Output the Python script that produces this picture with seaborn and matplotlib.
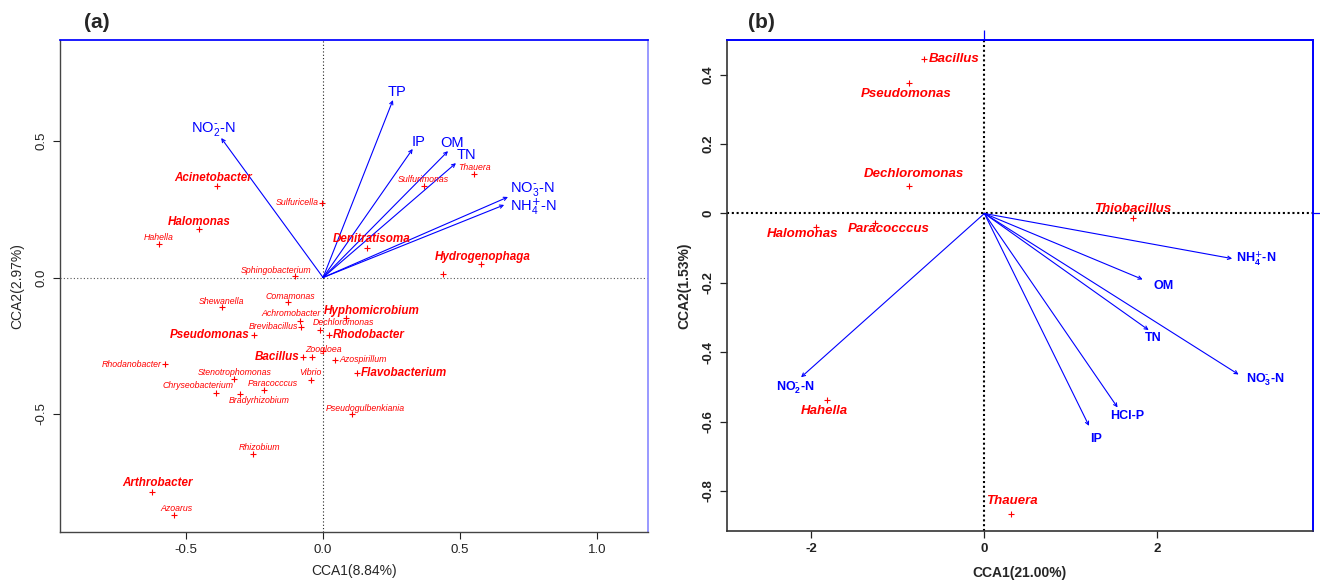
import numpy as np
import pandas as pd
import matplotlib
matplotlib.use("Agg")
import matplotlib.pyplot as plt
import seaborn as sns

# ---------- panel (a): genus scores ----------
genus_a = ["Acinetobacter", "Sulfuricella", "Halomonas", "Hahella", "Sphingobacterium",
           "Thauera", "Sulfurimonas", "Denitratisoma", "Hydrogenophaga", "",
           "Shewanella", "Comamonas", "Achromobacter", "Brevibacillus", "Dechloromonas",
           "Pseudomonas", "Bacillus", "", "Zoogloea", "Rhodanobacter",
           "Stenotrophomonas", "Chryseobacterium", "Paracocccus", "Bradyrhizobium", "Vibrio",
           "Rhizobium", "Arthrobacter", "Azoarus", "Hyphomicrobium", "Rhodobacter",
           "Azospirillum", "Flavobacterium", "Pseudogulbenkiania"]
cca1_a = [-0.387, -0.004, -0.453, -0.599, -0.102,
          0.551, 0.369, 0.161, 0.577, 0.438,
          -0.369, -0.128, -0.084, -0.080, -0.011,
          -0.252, -0.073, -0.040, 0.000, -0.577,
          -0.325, -0.391, -0.215, -0.303, -0.044,
          -0.255, -0.624, -0.544, 0.084, 0.022,
          0.044, 0.124, 0.106]
cca2_a = [0.335, 0.273, 0.178, 0.122, 0.005,
          0.379, 0.335, 0.108, 0.049, 0.013,
          -0.108, -0.090, -0.159, -0.181, -0.192,
          -0.211, -0.291, -0.291, -0.269, -0.317,
          -0.372, -0.423, -0.412, -0.427, -0.375,
          -0.647, -0.786, -0.870, -0.148, -0.211,
          -0.302, -0.349, -0.500]
major_a = ["Acinetobacter", "Halomonas", "Denitratisoma", "Hydrogenophaga", "Pseudomonas",
           "Bacillus", "Arthrobacter", "Hyphomicrobium", "Rhodobacter", "Flavobacterium"]

# ---------- panel (a): environmental vectors ----------
env_a = [r"NO$_2^{\text{-}}$-N", "TP", "IP", "OM", "TN",
         r"NO$_3^{\text{-}}$-N", r"NH$_4^{\text{+}}$-N"]
env_x_a = [-0.372, 0.255, 0.327, 0.456, 0.485, 0.675, 0.661]
env_y_a = [0.511, 0.650, 0.471, 0.463, 0.419, 0.295, 0.266]

# ---------- panel (b) ----------
genus_b = ["Bacillus", "Pseudomonas", "Dechloromonas", "Halomonas", "Paracocccus",
           "Thiobacillus", "Hahella", "Thauera"]
cca1_b = [-0.70, -0.87, -0.87, -1.95, -1.27, 1.72, -1.82, 0.31]
cca2_b = [0.445, 0.375, 0.079, -0.039, -0.027, -0.014, -0.537, -0.867]

env_b = [r"NO$_2^{\text{-}}$-N", r"NH$_4^{\text{+}}$-N", "OM", "TN",
         r"NO$_3^{\text{-}}$-N", "HCl-P", "IP"]
env_x_b = [-2.12, 2.865, 1.83, 1.90, 2.94, 1.54, 1.21]
env_y_b = [-0.472, -0.130, -0.19, -0.336, -0.464, -0.559, -0.612]

# label offsets in pixels (dx, dy, ha)
lab_a = {"Acinetobacter": (-4, 8, "center"), "Sulfuricella": (-3, 0, "right"),
         "Halomonas": (0, 7, "center"), "Hahella": (0, 7, "center"),
         "Sphingobacterium": (-19, 6, "center"), "Thauera": (0, 7, "center"),
         "Sulfurimonas": (-1, 7, "center"), "Denitratisoma": (4, 9, "center"),
         "Hydrogenophaga": (2, 7, "center"), "Shewanella": (0, 6, "center"),
         "Comamonas": (2, 6, "center"), "Achromobacter": (-9, 7, "center"),
         "Brevibacillus": (-3, 0, "right"), "Dechloromonas": (23, 7, "center"),
         "Pseudomonas": (-4, 0, "right"), "Bacillus": (-4, 0, "right"),
         "Zoogloea": (0, 1, "center"), "Rhodanobacter": (-3, 0, "right"),
         "Stenotrophomonas": (1, 7, "center"), "Chryseobacterium": (-18, 8, "center"),
         "Paracocccus": (9, 7, "center"), "Bradyrhizobium": (19, -6, "center"),
         "Vibrio": (-1, 7, "center"), "Rhizobium": (6, 7, "center"),
         "Arthrobacter": (5, 9, "center"), "Azoarus": (2, 7, "center"),
         "Hyphomicrobium": (26, 7, "center"), "Rhodobacter": (4, 0, "left"),
         "Azospirillum": (4, 0, "left"), "Flavobacterium": (4, 0, "left"),
         "Pseudogulbenkiania": (13, 6, "center")}
env_lab_a = [(-8, 9, "center"), (4, 8, "center"), (6, 7, "center"), (4, 8, "center"),
             (10, 8, "center"), (2, 8, "left"), (6, -2, "left")]
lab_b = [(5, 0, "left"), (-3, -11, "center"), (5, 12, "center"), (-13, -7, "center"),
         (14, -6, "center"), (0, 9, "center"), (-3, -11, "center"), (1, 13, "center")]
env_lab_b = [(-6, -10, "center"), (4, 0, "left"), (21, -7, "center"), (5, -8, "center"),
             (7, -5, "left"), (10, -9, "center"), (7, -13, "center")]

sns.set_theme(style="white")
plt.rcParams["font.family"] = ["Liberation Sans", "DejaVu Sans"]
plt.rcParams["mathtext.default"] = "regular"

fig = plt.figure(figsize=(13.2, 5.83), dpi=100)
ax1 = fig.add_axes([0.0451, 0.0875, 0.4456, 0.8439])
ax2 = fig.add_axes([0.5505, 0.0892, 0.4442, 0.8422])

RED = "#ff0000"
BLUE = "#0000ff"

# ---------------- (a) ----------------
df_a = pd.DataFrame({"genus": genus_a, "CCA1": cca1_a, "CCA2": cca2_a})
ax1.axhline(0, color="#555555", lw=0.8, ls=(0, (1, 2)), zorder=1)
ax1.axvline(0, color="#222222", lw=0.8, ls=(0, (1, 2)), zorder=1)
sns.scatterplot(data=df_a, x="CCA1", y="CCA2", marker="+", color=RED, s=16,
                linewidth=0.8, ax=ax1, zorder=3)
for g, x, y in zip(genus_a, cca1_a, cca2_a):
    if not g:
        continue
    dx, dy, ha = lab_a[g]
    big = g in major_a
    ax1.annotate(g, (x, y), xytext=(dx, dy), textcoords="offset pixels",
                 ha=ha, va="center", color=RED, style="italic",
                 fontweight="bold" if big else "normal",
                 fontsize=8.4 if big else 6.3, zorder=4)
for lab, x, y, (dx, dy, ha) in zip(env_a, env_x_a, env_y_a, env_lab_a):
    ax1.annotate("", xy=(x, y), xytext=(0, 0),
                 arrowprops=dict(arrowstyle="->", color=BLUE, lw=0.8,
                                 shrinkA=0, shrinkB=0, mutation_scale=6))
    ax1.annotate(lab, (x, y), xytext=(dx, dy), textcoords="offset pixels",
                 ha=ha, va="center", color=BLUE, fontsize=10.5)

ax1.set_xlim(-0.962, 1.185)
ax1.set_ylim(-0.932, 0.87)
ax1.set_xticks([-0.5, 0.0, 0.5, 1.0])
ax1.set_xticklabels(["-0.5", "0.0", "0.5", "1.0"])
ax1.set_yticks([-0.5, 0.0, 0.5])
ax1.set_yticklabels(["-0.5", "0.0", "0.5"], rotation=90, va="center")
ax1.set_xlabel("CCA1(8.84%)", fontsize=10, labelpad=6)
ax1.set_ylabel("CCA2(2.97%)", fontsize=10, labelpad=8)
ax1.tick_params(axis="both", direction="out", length=5, width=0.8,
                labelsize=9.5, colors="#222222", bottom=True, left=True)
for side in ["left", "bottom"]:
    ax1.spines[side].set_color("#444444")
    ax1.spines[side].set_linewidth(1.0)
ax1.spines["top"].set_color(BLUE)
ax1.spines["right"].set_color("#8c8cff")

# ---------------- (b) ----------------
df_b = pd.DataFrame({"genus": genus_b, "CCA1": cca1_b, "CCA2": cca2_b})
ax2.axhline(0, color="black", lw=1.5, ls=(0, (1, 1.3)), zorder=1)
ax2.axvline(0, color="black", lw=1.5, ls=(0, (1, 1.3)), zorder=1)
sns.scatterplot(data=df_b, x="CCA1", y="CCA2", marker="+", color=RED, s=14,
                linewidth=0.8, ax=ax2, zorder=3)
for g, x, y, (dx, dy, ha) in zip(genus_b, cca1_b, cca2_b, lab_b):
    ax2.annotate(g, (x, y), xytext=(dx, dy), textcoords="offset pixels",
                 ha=ha, va="center", color=RED, style="italic",
                 fontweight="bold", fontsize=9.5, zorder=4)
for lab, x, y, (dx, dy, ha) in zip(env_b, env_x_b, env_y_b, env_lab_b):
    ax2.annotate("", xy=(x, y), xytext=(0, 0),
                 arrowprops=dict(arrowstyle="->", color=BLUE, lw=0.8,
                                 shrinkA=0, shrinkB=0, mutation_scale=6))
    ax2.annotate(lab, (x, y), xytext=(dx, dy), textcoords="offset pixels",
                 ha=ha, va="center", color=BLUE, fontsize=9, fontweight="bold")

ax2.set_xlim(-2.98, 3.80)
ax2.set_ylim(-0.915, 0.50)
ax2.set_xticks([-2, 0, 2])
ax2.set_xticklabels(["-2", "0", "2"], fontweight="bold")
yt = [-0.8, -0.6, -0.4, -0.2, 0, 0.2, 0.4]
ax2.set_yticks(yt)
ax2.set_yticklabels(["-0.8", "-0.6", "-0.4", "-0.2", "0", "0.2", "0.4"],
                    rotation=90, va="center", fontweight="bold")
ax2.set_xlabel("CCA1(21.00%)", fontsize=10, fontweight="bold", labelpad=8)
ax2.set_ylabel("CCA2(1.53%)", fontsize=10, fontweight="bold", labelpad=8)
ax2.tick_params(axis="both", direction="out", length=5, width=0.9,
                labelsize=9.5, colors="#222222", bottom=True, left=True)
for side in ["left", "bottom"]:
    ax2.spines[side].set_color("#333333")
    ax2.spines[side].set_linewidth(1.2)
ax2.spines["top"].set_color(BLUE)
ax2.spines["right"].set_color(BLUE)
top = ax2.secondary_xaxis("top")
top.set_xticks([0])
top.set_xticklabels([])
top.tick_params(colors=BLUE, length=7, width=0.9)
right = ax2.secondary_yaxis("right")
right.set_yticks([0])
right.set_yticklabels([])
right.tick_params(colors=BLUE, length=7, width=0.9)
for s in top.spines.values():
    s.set_color(BLUE)
for s in right.spines.values():
    s.set_color(BLUE)

fig.text(0.073, 0.962, "(a)", fontsize=15, fontweight="bold", ha="center", va="center")
fig.text(0.577, 0.962, "(b)", fontsize=15, fontweight="bold", ha="center", va="center")

fig.savefig("out.png", dpi=100)
